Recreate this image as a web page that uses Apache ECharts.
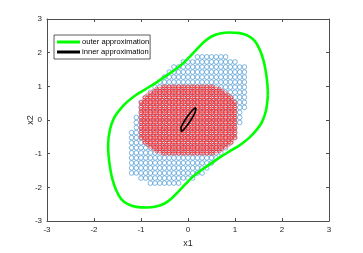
<!DOCTYPE html>
<html>
<head>
<meta charset="utf-8">
<script src="https://cdn.jsdelivr.net/npm/echarts@6/dist/echarts.min.js"></script>
<style>
html,body{margin:0;padding:0;background:#fff;}
#main{width:363px;height:253px;}
</style>
</head>
<body>
<div id="main"></div>
<script>
// red sample grid: column x values, row y values, and first/last column of each row
var redCols = [-1, -0.933, -0.867, -0.8, -0.733, -0.667, -0.6, -0.533, -0.467, -0.4, -0.333, -0.267, -0.2, -0.133, -0.067, 0,
  0.067, 0.133, 0.2, 0.267, 0.333, 0.4, 0.467, 0.533, 0.6, 0.667, 0.733, 0.8, 0.867, 0.933, 1];
var redRows = [1, 0.933, 0.867, 0.8, 0.733, 0.667, 0.6, 0.533, 0.467, 0.4, 0.333, 0.267, 0.2, 0.133, 0.067, 0,
  -0.067, -0.133, -0.2, -0.267, -0.333, -0.4, -0.467, -0.533, -0.6, -0.667, -0.733, -0.8, -0.867, -0.933, -1];
var redRowSpan = [[7,23],[5,25],[4,26],[3,27],[2,28],[1,29],[1,29],
  [0,30],[0,30],[0,30],[0,30],[0,30],[0,30],[0,30],[0,30],[0,30],[0,30],[0,30],[0,30],[0,30],[0,30],[0,30],[0,30],[0,30],
  [1,29],[1,29],[2,28],[3,27],[4,26],[5,25],[7,23]];

// blue sample grid: column x values, row y values, lowest/highest row of each column
var blueCols = [-1.2, -1.1, -1, -0.9, -0.8, -0.7, -0.6, -0.5, -0.4, -0.3, -0.2, -0.1, 0,
  0.1, 0.2, 0.3, 0.4, 0.5, 0.6, 0.7, 0.8, 0.9, 1, 1.1, 1.2];
var blueRows = [-1.875, -1.725, -1.575, -1.425, -1.275, -1.125, -0.975, -0.825, -0.675, -0.525, -0.375, -0.225, -0.075,
  0.075, 0.225, 0.375, 0.525, 0.675, 0.825, 0.975, 1.125, 1.275, 1.425, 1.575, 1.725, 1.875];
var blueLo = [2,2,1,1,0,0,0,0,0,0,0,1,1,1,2,2,3,4,5,6,7,8,9,12,15];
var blueHi = [10,13,16,17,18,19,20,21,22,23,23,24,24,24,25,25,25,25,25,25,25,24,24,23,23];

// outer approximation boundary
var outerX = [1.70, 1.69, 1.66, 1.61, 1.53, 1.42, 1.28, 1.10, 0.88, 0.68, 0.50, 0.35, 0.20, 0.05, -0.10, -0.30, -0.50, -0.70, -0.90, -1.10, -1.30, -1.45, -1.57, -1.66,
  -1.70, -1.69, -1.66, -1.61, -1.53, -1.42, -1.28, -1.10, -0.88, -0.68, -0.50, -0.35, -0.20, -0.05, 0.10, 0.30, 0.50, 0.70, 0.90, 1.10, 1.30, 1.45, 1.57, 1.66, 1.70];
var outerY = [0.74, 1.05, 1.40, 1.75, 2.08, 2.35, 2.50, 2.58, 2.60, 2.57, 2.48, 2.33, 2.12, 1.90, 1.69, 1.47, 1.28, 1.09, 0.92, 0.75, 0.53, 0.31, 0.07, -0.28,
  -0.74, -1.05, -1.40, -1.75, -2.08, -2.35, -2.50, -2.58, -2.60, -2.57, -2.48, -2.33, -2.12, -1.90, -1.69, -1.47, -1.28, -1.09, -0.92, -0.75, -0.53, -0.31, -0.07, 0.28, 0.74];

// inner approximation boundary
var innerX = [0.17, 0.174, 0.152, 0.107, 0.045, -0.023, -0.088, -0.140, -0.17, -0.174, -0.152, -0.107, -0.045, 0.023, 0.088, 0.140, 0.17];
var innerY = [0.36, 0.318, 0.228, 0.103, -0.038, -0.173, -0.281, -0.348, -0.36, -0.318, -0.228, -0.103, 0.038, 0.173, 0.281, 0.348, 0.36];

var redPts = [];
for (var j = 0; j < redRows.length; j++) {
  for (var i = redRowSpan[j][0]; i <= redRowSpan[j][1]; i++) {
    redPts.push([redCols[i], redRows[j]]);
  }
}
var bluePts = [];
for (var c = 0; c < blueCols.length; c++) {
  for (var r = blueLo[c]; r <= blueHi[c]; r++) {
    bluePts.push([blueCols[c], blueRows[r]]);
  }
}
function zip(xs, ys) {
  var out = [];
  for (var k = 0; k < xs.length; k++) out.push([xs[k], ys[k]]);
  return out;
}

var myChart = echarts.init(document.getElementById('main'));
var axisColor = '#4d4d4d';
var font = 'Liberation Sans';
function valAxis(extra) {
  var a = {
    type: 'value', min: -3, max: 3, interval: 1,
    axisLine: { show: true, onZero: false, lineStyle: { color: axisColor, width: 1 } },
    axisTick: { show: true, inside: true, length: 3, lineStyle: { color: axisColor } },
    splitLine: { show: false },
    axisLabel: { show: false }
  };
  for (var key in extra) a[key] = extra[key];
  return a;
}

var option = {
  animation: false,
  backgroundColor: '#fff',
  grid: { left: 47, right: 34, top: 19, bottom: 28, containLabel: false },
  xAxis: [
    valAxis({ position: 'bottom', name: 'x1', nameLocation: 'middle', nameGap: 18, nameMoveOverlap: false,
      nameTextStyle: { color: '#262626', fontSize: 9, fontFamily: font },
      axisLabel: { show: true, margin: 5, color: '#262626', fontSize: 8, fontFamily: font } }),
    valAxis({ position: 'top' })
  ],
  yAxis: [
    valAxis({ position: 'left', name: 'x2', nameLocation: 'middle', nameGap: 12, nameMoveOverlap: false,
      nameTextStyle: { color: '#262626', fontSize: 9, fontFamily: font },
      axisLabel: { show: true, margin: 5, color: '#262626', fontSize: 8, fontFamily: font } }),
    valAxis({ position: 'right' })
  ],
  legend: {
    data: ['outer approximation', 'inner approximation'],
    orient: 'vertical',
    left: 54, top: 35,
    icon: 'rect',
    itemWidth: 23, itemHeight: 3, itemGap: 2,
    padding: [3, 1, 3, 3],
    borderColor: '#333', borderWidth: 0.8,
    backgroundColor: '#fff',
    textStyle: { color: '#000', fontSize: 7.6, fontFamily: font, padding: [0, 0, 0, -3] }
  },
  series: [
    {
      name: 'blue', type: 'scatter', data: bluePts, silent: true,
      symbol: 'circle', symbolSize: 4.6,
      itemStyle: { color: 'rgba(0,0,0,0)', borderColor: '#3a8fd0', borderWidth: 0.8 }
    },
    {
      name: 'red', type: 'scatter', data: redPts, silent: true,
      symbol: 'circle', symbolSize: 3,
      itemStyle: { color: 'rgba(0,0,0,0)', borderColor: '#ff1a1a', borderWidth: 0.8 }
    },
    {
      name: 'outer approximation', type: 'line', data: zip(outerX, outerY),
      smooth: 0.3, showSymbol: false, silent: true,
      itemStyle: { color: '#00ff00' },
      lineStyle: { color: '#00ff00', width: 2.6 }
    },
    {
      name: 'inner approximation', type: 'line', data: zip(innerX, innerY),
      smooth: false, showSymbol: false, silent: true,
      itemStyle: { color: '#000' },
      lineStyle: { color: '#000', width: 1.6 }
    }
  ]
};
myChart.setOption(option);
</script>
</body>
</html>
